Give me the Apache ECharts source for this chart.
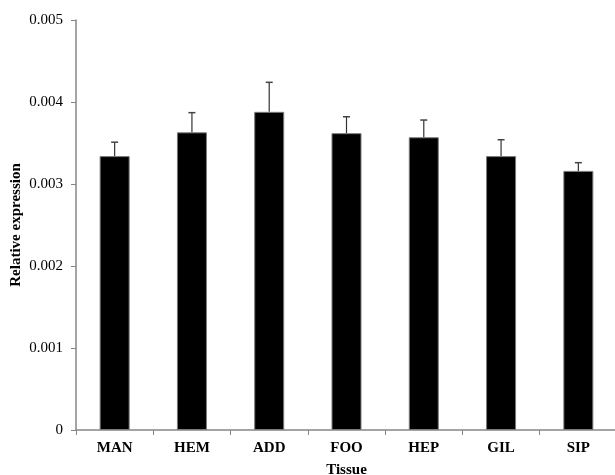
<!DOCTYPE html>
<html>
<head>
<meta charset="utf-8">
<script src="https://cdn.jsdelivr.net/npm/echarts@6/dist/echarts.min.js"></script>
<style>
  html, body { margin: 0; padding: 0; background: #fff; }
  #chart { width: 615px; height: 475px; }
</style>
</head>
<body>
<div id="chart"></div>
<script>
// tissues
const tissues = ['MAN', 'HEM', 'ADD', 'FOO', 'HEP', 'GIL', 'SIP'];
// mean relative expression
const means = [0.00334, 0.00363, 0.00388, 0.00362, 0.00357, 0.00334, 0.00316];
// standard error (upper bar only)
const errors = [0.00017, 0.00024, 0.00036, 0.00020, 0.00021, 0.00020, 0.00010];
const yTicks = [0, 0.001, 0.002, 0.003, 0.004, 0.005];

const serif = '"Liberation Serif", "Times New Roman", serif';

const chart = echarts.init(document.getElementById('chart'));

const errData = tissues.map((t, i) => [i, means[i], means[i] + errors[i]]);

chart.setOption({
  animation: false,
  grid: { left: 76, right: -2, top: 20, bottom: 45, containLabel: false, outerBoundsMode: 'none' },
  xAxis: {
    type: 'category',
    data: tissues,
    name: 'Tissue',
    nameLocation: 'middle',
    nameGap: 33,
    nameMoveOverlap: false,
    nameTextStyle: { fontFamily: serif, fontWeight: 'bold', fontSize: 15, color: '#000' },
    axisLine: { lineStyle: { color: '#868686', width: 1.5 } },
    axisTick: { show: true, length: 5, lineStyle: { color: '#868686' } },
    axisLabel: { fontFamily: serif, fontWeight: 'bold', fontSize: 15, color: '#000', margin: 11 }
  },
  yAxis: {
    type: 'value',
    min: yTicks[0],
    max: yTicks[yTicks.length - 1],
    interval: 0.001,
    name: 'Relative expression',
    nameLocation: 'middle',
    nameGap: 52,
    nameMoveOverlap: false,
    nameTextStyle: { fontFamily: serif, fontWeight: 'bold', fontSize: 15, color: '#000' },
    axisLine: { show: true, lineStyle: { color: '#868686', width: 1.5 } },
    axisTick: { show: true, length: 5, lineStyle: { color: '#868686' } },
    splitLine: { show: false },
    axisLabel: {
      fontFamily: serif, fontSize: 15, color: '#000', margin: 13,
      formatter: v => (v === 0 ? '0' : v.toFixed(3))
    }
  },
  series: [
    {
      type: 'bar',
      data: means,
      barWidth: 30,
      itemStyle: { color: '#000', borderColor: '#7a7a7a', borderWidth: 1 },
      z: 2
    },
    {
      type: 'custom',
      data: errData,
      z: 3,
      renderItem: (params, api) => {
        const base = api.coord([api.value(0), api.value(1)]);
        const top = api.coord([api.value(0), api.value(2)]);
        const half = 3.5;
        return {
          type: 'group',
          children: [
            {
              type: 'line',
              shape: { x1: base[0], y1: base[1], x2: top[0], y2: top[1] },
              style: { stroke: '#333', lineWidth: 1.2 }
            },
            {
              type: 'line',
              shape: { x1: top[0] - half, y1: top[1], x2: top[0] + half, y2: top[1] },
              style: { stroke: '#444', lineWidth: 1.5 }
            }
          ]
        };
      }
    }
  ]
});
</script>
</body>
</html>
